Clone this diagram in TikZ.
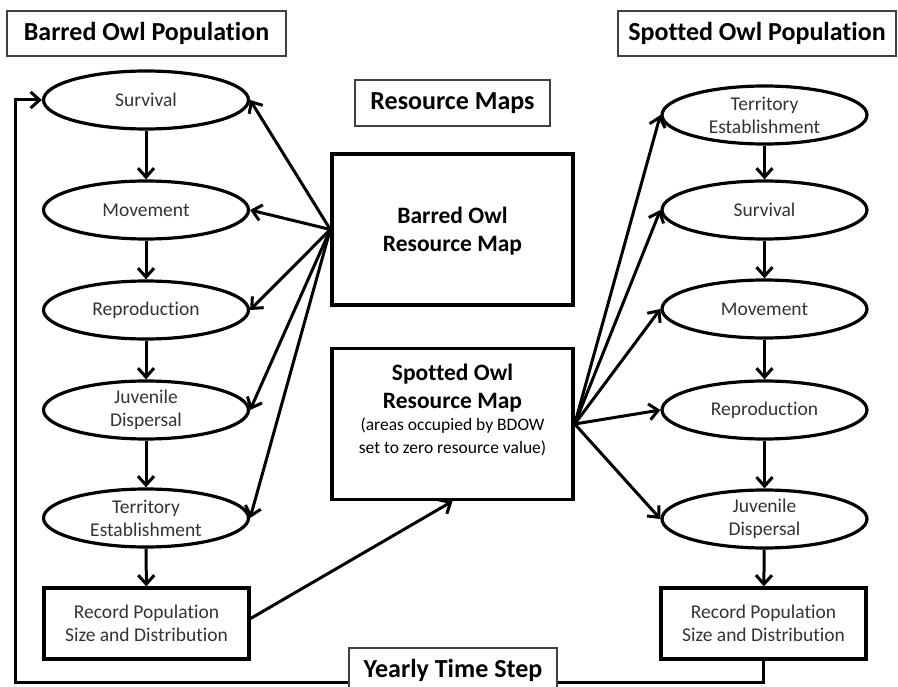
\documentclass[tikz,border=0pt]{standalone}
\usepackage{fontspec}
\setmainfont{Carlito}[Ligatures=NoCommon]
\usetikzlibrary{arrows.meta,shapes.geometric}
\newcommand\mysmallfont{\mdseries\fontsize{17.5}{21}\selectfont}
\begin{document}
\begin{tikzpicture}[x=1pt,y=-1pt,
  stage/.style={ellipse,draw,line width=3.2pt,minimum width=205pt,minimum height=58pt,inner sep=0pt,align=center,font=\fontsize{19.5}{23}\selectfont,text=black!80},
  recbox/.style={rectangle,draw,line width=3.2pt,minimum width=205pt,minimum height=71pt,inner sep=0pt,align=center,font=\fontsize{19.5}{23}\selectfont,text=black!80},
  mapbox/.style={rectangle,draw,line width=3.4pt,minimum width=241pt,minimum height=151pt,inner sep=0pt},
  maptext/.style={align=center,font=\bfseries\fontsize{23.5}{28}\selectfont},
  title/.style={rectangle,draw=black!75,line width=1.6pt,fill=white,inner sep=0pt,font=\bfseries\fontsize{26}{30}\selectfont},
  link/.style={line width=3pt,line join=miter,-{Straight Barb[length=9pt,width=16pt]}},
]
\useasboundingbox (0,0) rectangle (898,687);

% titles
\node[title,minimum width=279pt,minimum height=45pt] (tbo) at (146.5,33.5) {Barred Owl Population};
\node[title,minimum width=195pt,minimum height=46pt] (trm) at (452.5,103) {Resource Maps};
\node[title,minimum width=278pt,minimum height=45pt] (tso) at (757,33.5) {Spotted Owl Population};

% barred owl column
\node[stage] (b1) at (146,100) {Survival};
\node[stage] (b2) at (146,210) {Movement};
\node[stage] (b3) at (146,310) {Reproduction};
\node[stage] (b4) at (146,410) {Juvenile\\Dispersal};
\node[stage] (b5) at (146,518) {Territory\\Establishment};
\node[recbox] (br) at (146.5,623.5) {Record Population\\Size and Distribution};

% spotted owl column
\node[stage] (s1) at (764.5,115) {Territory\\Establishment};
\node[stage] (s2) at (764.5,210) {Survival};
\node[stage] (s3) at (764.5,309) {Movement};
\node[stage] (s4) at (764.5,410) {Reproduction};
\node[stage] (s5) at (764.5,519) {Juvenile\\Dispersal};
\node[recbox] (sr) at (763.5,623.5) {Record Population\\Size and Distribution};

% maps
\node[mapbox] (bm) at (452.5,229.5) {};
\node[maptext] (bmt) at (452.5,231) {Barred Owl\\Resource Map};
\node[mapbox] (sm) at (452.5,424) {};
\node[maptext] (smt) at (452.5,410) {Spotted Owl\\Resource Map\\[-6pt]{\mysmallfont (areas occupied by BDOW}\\[-5pt]{\mysmallfont set to zero resource value)}};

% vertical flow
\draw[link] (b1) -- (b2);
\draw[link] (b2) -- (b3);
\draw[link] (b3) -- (b4);
\draw[link] (b4) -- (b5);
\draw[link] (b5) -- (br);
\draw[link] (s1) -- (s2);
\draw[link] (s2) -- (s3);
\draw[link] (s3) -- (s4);
\draw[link] (s4) -- (s5);
\draw[link] (s5) -- (sr);

% barred owl map influences
\draw[link] (bm.west) -- (b1.east);
\draw[link] (bm.west) -- (b2.east);
\draw[link] (bm.west) -- (b3.east);
\draw[link] (bm.west) -- (b4.east);
\draw[link] (bm.west) -- (b5.east);

% spotted owl map influences
\draw[link] (sm.east) -- (s1.west);
\draw[link] (sm.east) -- (s2.west);
\draw[link] (sm.east) -- (s3.west);
\draw[link] (sm.east) -- (s4.west);
\draw[link] (sm.east) -- (s5.west);

% barred owl record to spotted owl map
\draw[link] ([yshift=5pt]br.east) -- (sm.south);

% yearly loop
\coordinate (c1) at (763.5,682);
\coordinate (c2) at (15,682);
\coordinate (c3) at (15,100);
\draw[link] (sr.south) -- (c1) -- (c2) -- (c3) -- (b1.west);
\node[title,minimum width=208pt,minimum height=44pt] (yts) at (453,670) {Yearly Time Step};
\end{tikzpicture}
\end{document}
